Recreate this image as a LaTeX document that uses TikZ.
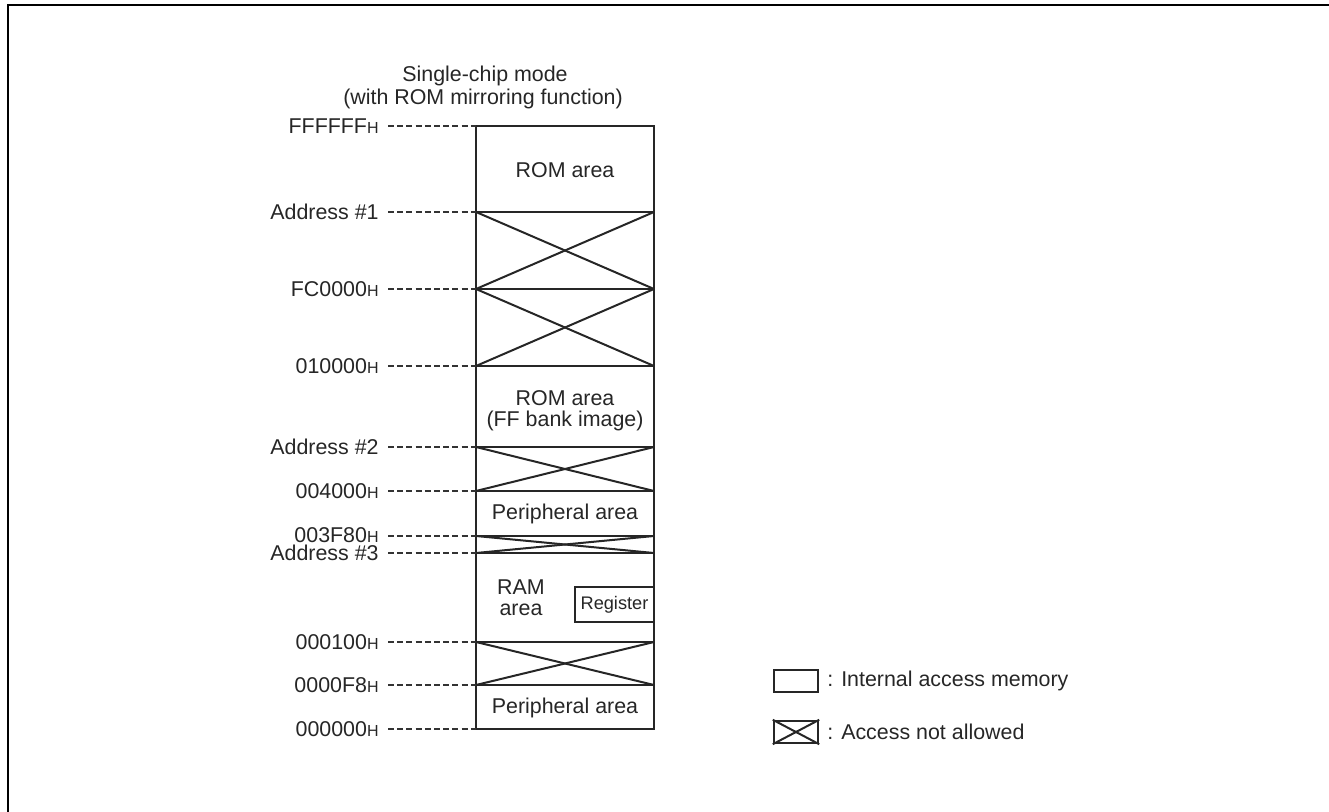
\documentclass[tikz,border=0pt]{standalone}
\usepackage{fontspec}
\setmainfont{Liberation Sans}
\begin{document}
\begin{tikzpicture}[x=0.5pt,y=-0.5pt,
  every node/.style={font=\fontsize{10.7}{13}\selectfont, inner sep=0pt, text=black!85},
  addr/.style={anchor=east},
  lead/.style={draw=black!80, line width=0.55pt, dash pattern=on 3pt off 1.6pt},
  area/.style={draw=black!85, line width=1.2pt},
  cross/.style={draw=black!85, line width=1pt},
  frame/.style={draw=black, line width=1pt}]
\useasboundingbox (0,0) rectangle (1329,812);
% outer frame (left and top edges visible)
\draw[frame] (8,812) -- (8,5) -- (1329,5);
% title
\node (t1) at (485,76) {Single-chip mode};
\node (t2) at (483,99) {(with ROM mirroring function)};
\newcommand{\hsub}{{\fontsize{8}{9}\selectfont H}}
% boundaries
\foreach \n/\y in {a/126,b/212,c/289,d/366,e/447,f/491,g/536,h/553,i/642,j/685,k/729}{
  \coordinate (L\n) at (476,\y);
  \coordinate (R\n) at (654,\y);
}
% crossed (not allowed) regions
\foreach \p/\q in {b/c,c/d,e/f,g/h,i/j}{
  \draw[cross] (L\p) -- (R\q);
  \draw[cross] (R\p) -- (L\q);
}
% horizontal boundaries and outer box
\foreach \n in {b,c,d,e,f,g,h,i,j}{
  \draw[area] (L\n) -- (R\n);
}
\draw[area] (La) rectangle (Rk);
% address labels
\node[addr] (na) at (379,126) {FFFFFF\hsub};
\node[addr] (nb) at (379,212) {Address \#1};
\node[addr] (nc) at (379,289) {FC0000\hsub};
\node[addr] (nd) at (379,366) {010000\hsub};
\node[addr] (ne) at (379,447) {Address \#2};
\node[addr] (nf) at (379,491) {004000\hsub};
\node[addr] (ng) at (379,535) {003F80\hsub};
\node[addr] (nh) at (379,553) {Address \#3};
\node[addr] (ni) at (379,642) {000100\hsub};
\node[addr] (nj) at (379,685) {0000F8\hsub};
\node[addr] (nk) at (379,729) {000000\hsub};
\foreach \n in {a,b,c,d,e,f,g,h,i,j,k}{
  \draw[lead] ([xshift=4.5pt] n\n.east |- L\n) -- (L\n);
}
% area texts
\node (rom1) at (565,170) {ROM area};
\node (rom2a) at (565,398) {ROM area};
\node (rom2b) at (565,421) {(FF bank image)};
\node (per1) at (565,514) {Peripheral area};
\node (ram1) at (521,587) {RAM};
\node (ram2) at (521,610) {area};
\node[draw=black!85, line width=1.2pt, minimum width=79*0.5pt, minimum height=35*0.5pt,
  font=\fontsize{9.1}{11}\selectfont] (reg) at (614.5,604.5) {Register};
\node (per2) at (565,708) {Peripheral area};
% legend
\node[draw=black!85, line width=1.2pt, minimum width=44*0.5pt, minimum height=22*0.5pt] (lg1) at (796,681) {};
\node[anchor=west] (lt1) at (827,681) {: Internal access memory};
\node[draw=black!85, line width=1.2pt, minimum width=44*0.5pt, minimum height=22*0.5pt] (lg2) at (796,732) {};
\draw[cross] (lg2.north west) -- (lg2.south east);
\draw[cross] (lg2.north east) -- (lg2.south west);
\node[anchor=west] (lt2) at (827,732) {: Access not allowed};
\end{tikzpicture}
\end{document}
